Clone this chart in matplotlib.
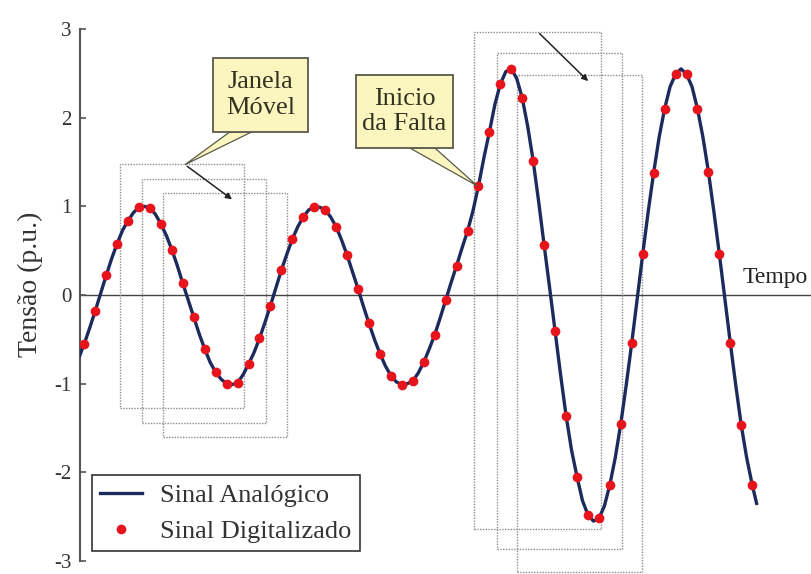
import numpy as np
import matplotlib.pyplot as plt
from matplotlib.patches import Rectangle, Polygon

plt.rcParams['font.family'] = ['Liberation Serif', 'DejaVu Serif']
plt.rcParams['axes.unicode_minus'] = False

# amostras do sinal digitalizado (16 amostras por ciclo)
k_amostras = np.arange(0, 62)
v_digital = [
    -0.55, -0.18, 0.22, 0.58, 0.84, 0.99, 0.98, 0.80, 0.51, 0.13,
    -0.25, -0.61, -0.87, -1.00, -0.99, -0.78, -0.49, -0.12, 0.28, 0.63,
    0.88, 0.99, 0.96, 0.77, 0.45, 0.07, -0.32, -0.66, -0.91, -1.01,
    -0.97, -0.76, -0.45, -0.06, 0.33, 0.72, 1.23, 1.84, 2.38, 2.55,
    2.22, 1.51, 0.56, -0.41, -1.36, -2.05, -2.48, -2.52, -2.14, -1.45,
    -0.54, 0.46, 1.38, 2.10, 2.49, 2.49, 2.10, 1.39, 0.46, -0.54,
    -1.47, -2.14,
]

# sinal analogico lido a cada meia amostra
t_analog = np.append(np.arange(-0.5, 61.5, 0.5), 61.4)
v_analog = [
    -0.71, -0.55, -0.37, -0.18, 0.02, 0.22, 0.41, 0.58, 0.73, 0.84,
    0.93, 0.99, 1.00, 0.98, 0.91, 0.80, 0.67, 0.51, 0.33, 0.13,
    -0.06, -0.25, -0.44, -0.61, -0.76, -0.87, -0.95, -1.00, -1.01, -0.99,
    -0.90, -0.78, -0.65, -0.49, -0.31, -0.12, 0.08, 0.28, 0.46, 0.63,
    0.77, 0.88, 0.96, 0.99, 0.99, 0.96, 0.88, 0.77, 0.62, 0.45,
    0.26, 0.07, -0.13, -0.32, -0.50, -0.66, -0.80, -0.91, -0.98, -1.01,
    -1.00, -0.97, -0.88, -0.76, -0.61, -0.45, -0.26, -0.06, 0.14, 0.33,
    0.53, 0.72, 0.95, 1.23, 1.55, 1.84, 2.15, 2.38, 2.52, 2.55,
    2.44, 2.22, 1.90, 1.51, 1.05, 0.56, 0.08, -0.41, -0.90, -1.36,
    -1.75, -2.05, -2.32, -2.48, -2.55, -2.52, -2.38, -2.14, -1.83, -1.45,
    -1.01, -0.54, -0.04, 0.46, 0.94, 1.38, 1.78, 2.10, 2.35, 2.49,
    2.55, 2.49, 2.35, 2.10, 1.78, 1.39, 0.94, 0.46, -0.04, -0.54,
    -1.02, -1.47, -1.84, -2.14, -2.35,
]

# janelas moveis: (inicio, fim, base, topo)
janelas_pre = [(3.3, 14.6, -1.27, 1.48), (5.3, 16.6, -1.44, 1.31), (7.2, 18.5, -1.60, 1.15)]
janelas_pos = [(35.6, 47.2, -2.64, 2.97), (37.7, 49.1, -2.87, 2.73), (39.5, 50.9, -3.12, 2.48)]
k_falta = 36

fig = plt.figure(figsize=(8.12, 5.74), dpi=100)
ax = fig.add_axes([80 / 812, 13 / 574, 732 / 812, 532 / 574])
ax.set_xlim(-0.39, 66.46)
ax.set_ylim(-3, 3)

for x0, x1, y0, y1 in janelas_pre + janelas_pos:
    ax.add_patch(Rectangle((x0, y0), x1 - x0, y1 - y0, fill=False, ec='#8c8c8c',
                           lw=1.0, ls=(0, (1, 1)), zorder=2, clip_on=False))

ax.axhline(0, color='#444444', lw=1.0, zorder=1)
ax.plot(t_analog, v_analog, color='#1d2b5c', lw=2.4, zorder=3, label='Sinal Analógico')
ax.plot(k_amostras, v_digital, 'o', color='#e8141c', ms=7, mec='none', zorder=4,
        label='Sinal Digitalizado')

# setas das janelas
seta = dict(arrowstyle='-|>', color='#222222', lw=1.1, mutation_scale=9)
ax.annotate('', xy=(13.7, 1.06), xytext=(9.2, 1.47), arrowprops=seta, annotation_clip=False)
ax.annotate('', xy=(46.2, 2.39), xytext=(41.4, 2.97), arrowprops=seta, annotation_clip=False)

# baloes de texto
def balao(x0, x1, y0, y1, cauda, ponta, texto):
    ax.add_patch(Polygon([(cauda[0], y0), (cauda[1], y0), ponta], closed=True,
                         fc='#fbf5c0', ec='#5a5a4a', lw=0.9, zorder=5, clip_on=False))
    ax.add_patch(Rectangle((x0, y0), x1 - x0, y1 - y0, fc='#fbf5c0', ec='#5a5a4a',
                           lw=1.3, zorder=6, clip_on=False))
    ax.text((x0 + x1) / 2, (y0 + y1) / 2, texto, ha='center', va='center', fontsize=19,
            color='#333322', linespacing=1.2, zorder=7)

balao(11.8, 20.4, 1.84, 2.67, (13.3, 15.3), (9.2, 1.47), 'Janela\nMóvel')
balao(24.8, 33.7, 1.66, 2.48, (29.7, 32.0), (k_falta - 0.1, v_digital[k_falta]), 'Inicio\nda Falta')

ax.text(60.1, 0.135, 'Tempo', fontsize=17, color='#222222', va='baseline', ha='left')

for lado in ['top', 'right', 'bottom']:
    ax.spines[lado].set_visible(False)
ax.spines['left'].set_color('#555555')
ax.spines['left'].set_linewidth(1.5)
ax.set_xticks([])
ax.set_yticks([-3, -2, -1, 0, 1, 2, 3])
ax.tick_params(axis='y', direction='in', length=4, width=1.2, color='#555555',
               labelsize=15, labelcolor='#333333', pad=6)

fig.text(30 / 812, 1 - 284 / 574, 'Tensão (p.u.)', rotation=90, ha='center', va='center',
         fontsize=20, color='#333333')

leg = ax.legend(loc='lower left', bbox_to_anchor=(0.016, 0.019), borderaxespad=0,
                fontsize=19, frameon=True, fancybox=False, handlelength=1.6,
                handletextpad=0.7, borderpad=0.3, labelspacing=0.48)
leg.get_frame().set_edgecolor('#333333')
leg.get_frame().set_linewidth(1.2)
leg.get_frame().set_alpha(1)
for txt in leg.get_texts():
    txt.set_color('#333333')

fig.savefig('out.png', dpi=100)
